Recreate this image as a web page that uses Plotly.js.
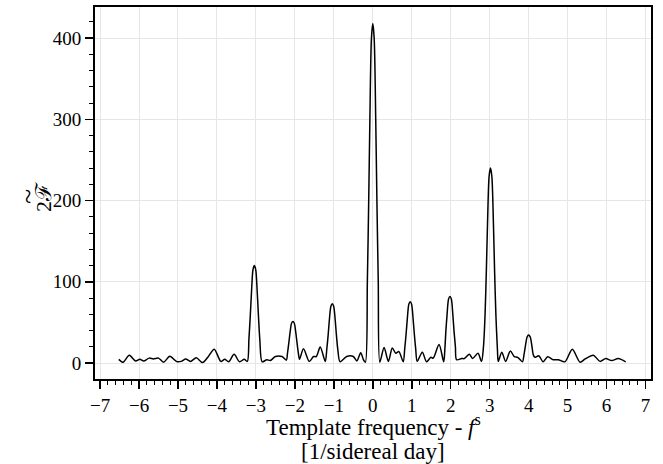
<!DOCTYPE html>
<html>
<head>
<meta charset="utf-8">
<script src="https://cdn.plot.ly/plotly-3.0.1.min.js"></script>
<style>html,body{margin:0;padding:0;background:#fff;}#chart{width:663px;height:464px;}</style>
</head>
<body>
<div id="chart"></div>
<script>
// Template frequency [1/sidereal day]
const freq = [
 -6.52,-6.41,-6.25,-6.09,-5.98,-5.88,-5.74,-5.63,-5.50,-5.37,-5.21,-5.03,-4.92,-4.80,-4.68,-4.53,-4.37,-4.22,-4.07,-3.90,
 -3.80,-3.70,-3.56,-3.42,-3.30,-3.22,-3.18,-3.145,-3.115,-3.075,-3.04,-3.005,-2.965,-2.935,-2.90,-2.84,-2.72,-2.63,-2.50,-2.33,
 -2.22,-2.19,-2.155,-2.125,-2.085,-2.05,-2.015,-1.975,-1.945,-1.91,-1.88,-1.78,-1.63,-1.52,-1.45,-1.35,-1.22,-1.18,-1.145,-1.115,
 -1.075,-1.04,-1.005,-0.965,-0.935,-0.90,-0.84,-0.67,-0.50,-0.41,-0.31,-0.24,-0.19,-0.14,-0.105,-0.075,-0.035,0.0,0.035,0.075,
 0.105,0.14,0.18,0.29,0.40,0.50,0.59,0.67,0.78,0.82,0.855,0.885,0.925,0.96,0.995,1.035,1.065,1.10,1.14,1.27,
 1.38,1.49,1.55,1.70,1.82,1.85,1.875,1.905,1.945,1.98,2.015,2.055,2.085,2.12,2.15,2.28,2.35,2.48,2.56,2.70,
 2.79,2.84,2.88,2.915,2.945,2.985,3.02,3.055,3.095,3.125,3.16,3.20,3.22,3.31,3.41,3.53,3.63,3.72,3.84,3.88,
 3.92,3.96,4.00,4.04,4.08,4.12,4.16,4.26,4.37,4.49,4.63,4.76,4.93,5.12,5.32,5.45,5.66,5.83,5.98,6.13,
 6.30,6.49
];
// Detection statistic 2F~
const twoF = [
 4.5,0.9,9.5,2.5,4.5,2.5,6,5,6,1,8.2,1.7,2,5,2,6.6,0.5,8,17,2,
 4.5,1.5,10.7,1.5,4.5,2,29,58,86,115,120,115,86,58,29,1.5,4,3,8,8,
 3.5,12,25,37,49,51,49,37,25,12,4.5,17.6,2,8,8,19.7,2,17.5,35,53,
 70,73,70,53,35,17.5,1.5,8,8,2.5,12.7,4,1,100,200,300,400,418,400,300,
 200,100,1,19,2,18.5,12,14,1.5,18,36,54,72.5,75.5,72.5,54,36,18,2,13.3,
 1.5,7,6,22.7,1.5,18,39,59,79,82,79,59,39,20,4,5.5,5.5,10.7,5.5,12,
 2,20,58,115,173,230,240,230,173,115,58,15,2,13.3,2,14.8,8,7,1.5,10,
 22,32,34.5,32,22,10,7,9,1.5,7.8,4,4,1.5,17,1,5,9.6,2,5.5,3,
 5.5,1.5
];
const xTickVals = [-7,-6,-5,-4,-3,-2,-1,0,1,2,3,4,5,6,7];
const yTickVals = [0,100,200,300,400];
const xTitleLines = ['Template frequency - <i>f</i><sup>s</sup>', '[1/sidereal day]'];
const yTitle = '2<span style="font-family:\'DejaVu Serif\'">ℱ</span>';

const serif = '"Liberation Serif", "DejaVu Serif", serif';

const trace = {
  x: freq, y: twoF, type: 'scatter', mode: 'lines',
  line: {color: '#000', width: 1.5, shape: 'spline', smoothing: 0.8},
  hoverinfo: 'none'
};

const axisCommon = {
  showline: true, mirror: true, linecolor: '#000', linewidth: 2,
  ticks: 'outside', ticklen: 8, tickwidth: 1.5, tickcolor: '#000',
  showgrid: true, gridcolor: '#e6e6e6', gridwidth: 1, zeroline: false,
  tickfont: {family: serif, size: 19, color: '#000'}
};

const layout = {
  width: 663, height: 464,
  margin: {l: 95, r: 12, t: 7, b: 85},
  paper_bgcolor: '#fff', plot_bgcolor: '#fff',
  showlegend: false,
  xaxis: Object.assign({}, axisCommon, {
    range: [-7.13, 7.14], tickmode: 'array', tickvals: xTickVals,
    ticktext: xTickVals.map(v => v < 0 ? '\u2212' + Math.abs(v) : String(v)),
    minor: {dtick: 0.2, tick0: 0, ticks: 'outside', ticklen: 4, tickwidth: 1, tickcolor: '#000', showgrid: false}
  }),
  yaxis: Object.assign({}, axisCommon, {
    range: [-19.7, 438.4], tickmode: 'array', tickvals: yTickVals,
    minor: {dtick: 20, tick0: 0, ticks: 'outside', ticklen: 4, tickwidth: 1, tickcolor: '#000', showgrid: false}
  }),
  annotations: [
    {xref: 'paper', yref: 'paper', x: 0.5, y: 0, xanchor: 'center', yanchor: 'middle',
     yshift: -46, text: xTitleLines[0], showarrow: false,
     font: {family: serif, size: 23, color: '#000'}},
    {xref: 'paper', yref: 'paper', x: 0.5, y: 0, xanchor: 'center', yanchor: 'middle',
     yshift: -72, text: xTitleLines[1], showarrow: false,
     font: {family: serif, size: 23, color: '#000'}},
    {xref: 'paper', yref: 'paper', x: 0, y: 0.489, xanchor: 'center', yanchor: 'middle',
     xshift: -52, text: yTitle, textangle: -90, showarrow: false,
     font: {family: serif, size: 22, color: '#000'}},
    {xref: 'paper', yref: 'paper', x: 0, y: 0.489, xanchor: 'center', yanchor: 'middle',
     xshift: -68, text: '~', textangle: -90, showarrow: false,
     font: {family: serif, size: 28, color: '#000'}}
  ]
};

Plotly.newPlot('chart', [trace], layout, {displayModeBar: false, staticPlot: true});
</script>
</body>
</html>
